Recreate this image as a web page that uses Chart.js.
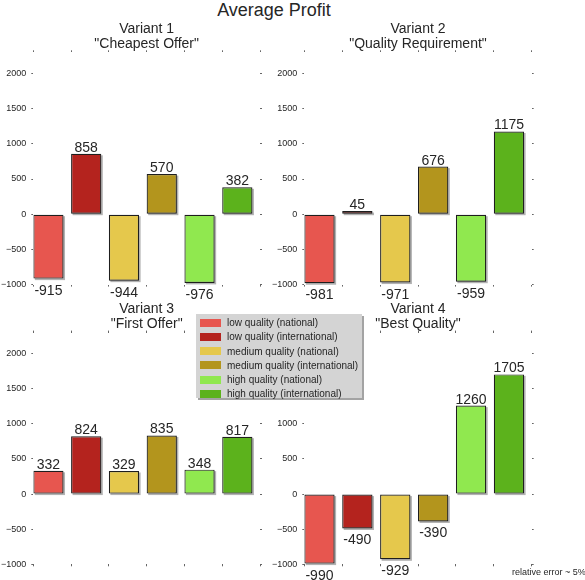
<!DOCTYPE html>
<html>
<head>
<meta charset="utf-8">
<script src="https://cdn.jsdelivr.net/npm/chart.js@4.4.1/dist/chart.umd.min.js"></script>
<style>
  body { margin: 0; background: #fff; font-family: "Liberation Sans", Arial, sans-serif; color: #262626; }
  #page { position: relative; width: 585px; height: 580px; overflow: hidden; }
  canvas { position: absolute; }
  #mainTitle { position: absolute; left: 0; top: 0; width: 548px; text-align: center; font-size: 18px; line-height: 20px; }
  #legend { position: absolute; left: 196px; top: 314px; width: 166px; height: 84px; box-sizing: border-box;
            padding-top: 1.5px; background: #d4d4d4; box-shadow: 2px 2px 0 #a3a3a3; font-size: 10px; z-index: 2; }
  #legend .item { height: 14.25px; display: flex; align-items: center; white-space: nowrap; }
  #legend .swatch { display: inline-block; width: 21px; height: 8px; margin-left: 3.5px; margin-right: 6.5px; }
  #note { position: absolute; left: 512px; top: 566px; font-size: 9px; line-height: 12px; white-space: nowrap; }
</style>
</head>
<body>
<div id="page">
  <div id="mainTitle">Average Profit</div>
  <canvas id="chart1" width="290" height="300" style="left:0px; top:18px;"></canvas>
  <canvas id="chart2" width="300" height="300" style="left:271px; top:18px;"></canvas>
  <canvas id="chart3" width="290" height="282" style="left:0px; top:298px;"></canvas>
  <canvas id="chart4" width="300" height="282" style="left:271px; top:298px;"></canvas>
  <div id="legend"></div>
  <div id="note">relative error ~ 5%</div>
</div>
<script>
const categories = [
  'low quality (national)',
  'low quality (international)',
  'medium quality (national)',
  'medium quality (international)',
  'high quality (national)',
  'high quality (international)'
];
const colors = ['#e7564f', '#b4231e', '#e5c84c', '#b3951d', '#90e84f', '#5cb21c'];

const variant1Title = ['Variant 1', '"Cheapest Offer"'];
const variant2Title = ['Variant 2', '"Quality Requirement"'];
const variant3Title = ['Variant 3', '"First Offer"'];
const variant4Title = ['Variant 4', '"Best Quality"'];

const variant1 = [-915, 858, -944, 570, -976, 382];
const variant2 = [-981, 45, -971, 676, -959, 1175];
const variant3 = [332, 824, 329, 835, 348, 817];
const variant4 = [-990, -490, -929, -390, 1260, 1705];

const yTicks = [-1000, -500, 0, 500, 1000, 1500, 2000];
const yMin = -1000;
const yMax = 2300;

const fontFamily = '"Liberation Sans", Arial, sans-serif';
const textColor = '#262626';

// gray drop shadow behind each bar
const barShadow = {
  id: 'barShadow',
  beforeDatasetsDraw(chart) {
    const ctx = chart.ctx;
    ctx.save();
    ctx.fillStyle = 'rgba(0,0,0,0.3)';
    chart.getDatasetMeta(0).data.forEach(bar => {
      const top = Math.min(bar.y, bar.base);
      const h = Math.abs(bar.y - bar.base);
      ctx.fillRect(bar.x - bar.width / 2 + 1.5, top + 1.5, bar.width, h);
    });
    ctx.restore();
  }
};

// value printed above positive bars, below negative ones
const valueLabels = {
  id: 'valueLabels',
  afterDatasetsDraw(chart) {
    const ctx = chart.ctx;
    const points = chart.data.datasets[0].data;
    ctx.save();
    ctx.font = '14px ' + fontFamily;
    ctx.fillStyle = textColor;
    ctx.textAlign = 'center';
    ctx.textBaseline = 'alphabetic';
    chart.getDatasetMeta(0).data.forEach((bar, i) => {
      const v = points[i].y;
      ctx.fillText(String(v), bar.x, v >= 0 ? bar.y - 2 : bar.y + 16);
    });
    ctx.restore();
  }
};

const tickMarks = { drawOnChartArea: false, drawTicks: true, tickLength: 2, color: '#666', lineWidth: 1, offset: false };

function xAxis(position) {
  return {
    type: 'linear', position: position, min: 0, max: 6, offset: false,
    border: { display: false },
    grid: tickMarks,
    ticks: { display: false, stepSize: 1 },
    afterFit: s => { s.height = 0; }
  };
}

function yAxis(position, showLabels, width) {
  return {
    type: 'linear', position: position, min: yMin, max: yMax,
    border: { display: false },
    grid: tickMarks,
    ticks: {
      display: showLabels,
      padding: 5,
      color: textColor,
      font: { family: fontFamily, size: 9 },
      callback: v => v < 0 ? '\u2212' + Math.abs(v) : String(v)
    },
    afterBuildTicks: s => { s.ticks = yTicks.map(v => ({ value: v })); },
    afterFit: s => { s.width = width; }
  };
}

function makePanel(canvasId, titleLines, values, padding) {
  new Chart(document.getElementById(canvasId), {
    type: 'bar',
    data: {
      datasets: [{
        data: values.map((v, i) => ({ x: i + 0.4, y: v })),
        backgroundColor: colors,
        borderColor: '#1e1e1e',
        borderWidth: 1.2,
        borderSkipped: false,
        categoryPercentage: 1,
        barPercentage: 0.8
      }]
    },
    options: {
      responsive: false,
      animation: false,
      layout: { padding: padding },
      plugins: {
        legend: { display: false },
        tooltip: { enabled: false },
        title: {
          display: true,
          text: titleLines,
          fullSize: false,
          color: textColor,
          font: { family: fontFamily, size: 14, weight: 'normal', lineHeight: '15px' },
          padding: { top: 0, bottom: 0.8 }
        }
      },
      scales: {
        x: xAxis('bottom'),
        xTop: xAxis('top'),
        y: yAxis('left', true, 33.3),
        yRight: yAxis('right', false, 3)
      }
    },
    plugins: [barShadow, valueLabels]
  });
}

makePanel('chart1', variant1Title, variant1, { left: 0, right: 27, top: 3.5, bottom: 33.4 });
makePanel('chart2', variant2Title, variant2, { left: 0, right: 36.3, top: 3.5, bottom: 33.4 });
makePanel('chart3', variant3Title, variant3, { left: 0, right: 27, top: 3.8, bottom: 15.7 });
makePanel('chart4', variant4Title, variant4, { left: 0, right: 36.3, top: 3.8, bottom: 15.7 });

const legendEl = document.getElementById('legend');
categories.forEach((name, i) => {
  const row = document.createElement('div');
  row.className = 'item';
  const sw = document.createElement('span');
  sw.className = 'swatch';
  sw.style.background = colors[i];
  row.appendChild(sw);
  row.appendChild(document.createTextNode(name));
  legendEl.appendChild(row);
});
</script>
</body>
</html>
